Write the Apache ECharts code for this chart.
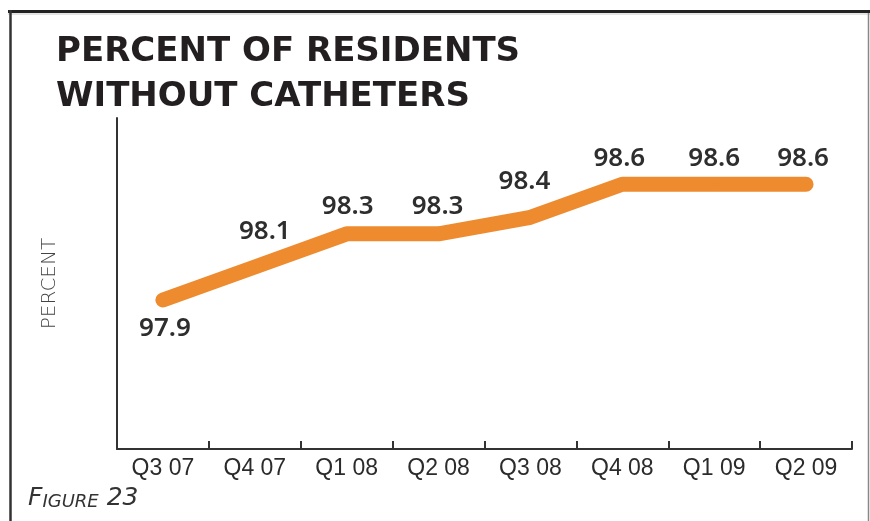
<!DOCTYPE html>
<html>
<head>
<meta charset="utf-8">
<script src="https://cdn.jsdelivr.net/npm/echarts@6/dist/echarts.min.js"></script>
<style>
  html, body { margin: 0; padding: 0; background: #fff; }
  #chart { width: 870px; height: 521px; }
</style>
</head>
<body>
<div id="chart"></div>
<script>
// ---- data ----
const categories = ['Q3 07', 'Q4 07', 'Q1 08', 'Q2 08', 'Q3 08', 'Q4 08', 'Q1 09', 'Q2 09'];
const values = [97.9, 98.1, 98.3, 98.3, 98.4, 98.6, 98.6, 98.6];
const titleLines = ['PERCENT OF RESIDENTS', 'WITHOUT CATHETERS'];
const yAxisName = 'PERCENT';
const figureCaption = ['F', 'IGURE', ' 23'];

// ---- label placement (style, not data) ----
const labelOffsets = [[2, 29], [10, -35], [1, -27], [-1, -27], [-6, -36], [-3, -26], [0, -26], [-3, -26]];

const chart = echarts.init(document.getElementById('chart'), null, { renderer: 'canvas' });

const seriesData = values.map((v, i) => ({
  value: v,
  label: { offset: labelOffsets[i] }
}));

const option = {
  backgroundColor: '#ffffff',
  animation: false,
  grid: { left: 117, right: 18, top: 118, bottom: 72, containLabel: false },
  title: {
    text: titleLines.join('\n'),
    left: 51,
    top: 25,
    textStyle: {
      fontFamily: '"DejaVu Sans"',
      fontWeight: 'bold',
      fontSize: 34,
      lineHeight: 45,
      color: '#231f20'
    }
  },
  xAxis: {
    type: 'category',
    data: categories,
    boundaryGap: true,
    axisLine: { show: true, lineStyle: { color: '#333', width: 2 } },
    axisTick: { show: true, inside: true, length: 8, lineStyle: { color: '#333', width: 2 }, alignWithLabel: false },
    axisLabel: {
      color: '#2b2b2b',
      fontFamily: '"Liberation Sans", sans-serif',
      fontSize: 23,
      margin: 8
    },
    splitLine: { show: false }
  },
  yAxis: {
    type: 'value',
    min: 97,
    max: 99,
    name: yAxisName,
    nameLocation: 'middle',
    nameGap: 57,
    nameRotate: 90,
    nameTextStyle: {
      fontFamily: '"DejaVu Sans"',
      fontWeight: 200,
      fontSize: 20,
      color: '#444'
    },
    axisLine: { show: true, lineStyle: { color: '#333', width: 2 } },
    axisTick: { show: false },
    axisLabel: { show: false },
    splitLine: { show: false }
  },
  series: [{
    type: 'line',
    data: seriesData,
    symbol: 'circle',
    symbolSize: 2,
    showSymbol: true,
    itemStyle: { color: '#ee8b2f' },
    lineStyle: { color: '#ee8b2f', width: 15, cap: 'round', join: 'round' },
    label: {
      show: true,
      position: 'inside',
      formatter: p => p.value.toFixed(1),
      fontFamily: 'Noto Sans',
      fontWeight: 600,
      fontSize: 26,
      color: '#2e2e2e'
    },
    z: 3
  }],
  graphic: [
    { type: 'line', shape: { x1: 8, y1: 11.5, x2: 870, y2: 11.5 }, style: { stroke: '#222', lineWidth: 3 } },
    { type: 'line', shape: { x1: 8, y1: 14, x2: 870, y2: 14 }, style: { stroke: '#c8c8c8', lineWidth: 1 } },
    { type: 'line', shape: { x1: 10.5, y1: 10, x2: 10.5, y2: 521 }, style: { stroke: '#333', lineWidth: 2.5 } },
    { type: 'line', shape: { x1: 868.5, y1: 13, x2: 868.5, y2: 521 }, style: { stroke: '#888', lineWidth: 1.5 } },
    {
      type: 'text',
      left: 28,
      top: 486,
      style: {
        text: '{a|' + figureCaption[0] + '}{b|' + figureCaption[1] + '}{a|' + figureCaption[2] + '}',
        rich: {
          a: { fontFamily: '"DejaVu Sans"', fontStyle: 'italic', fontWeight: 200, fontSize: 25, fill: '#333', verticalAlign: 'bottom' },
          b: { fontFamily: '"DejaVu Sans"', fontStyle: 'italic', fontWeight: 200, fontSize: 18, fill: '#333', verticalAlign: 'bottom' }
        }
      }
    }
  ]
};

chart.setOption(option);
</script>
</body>
</html>
